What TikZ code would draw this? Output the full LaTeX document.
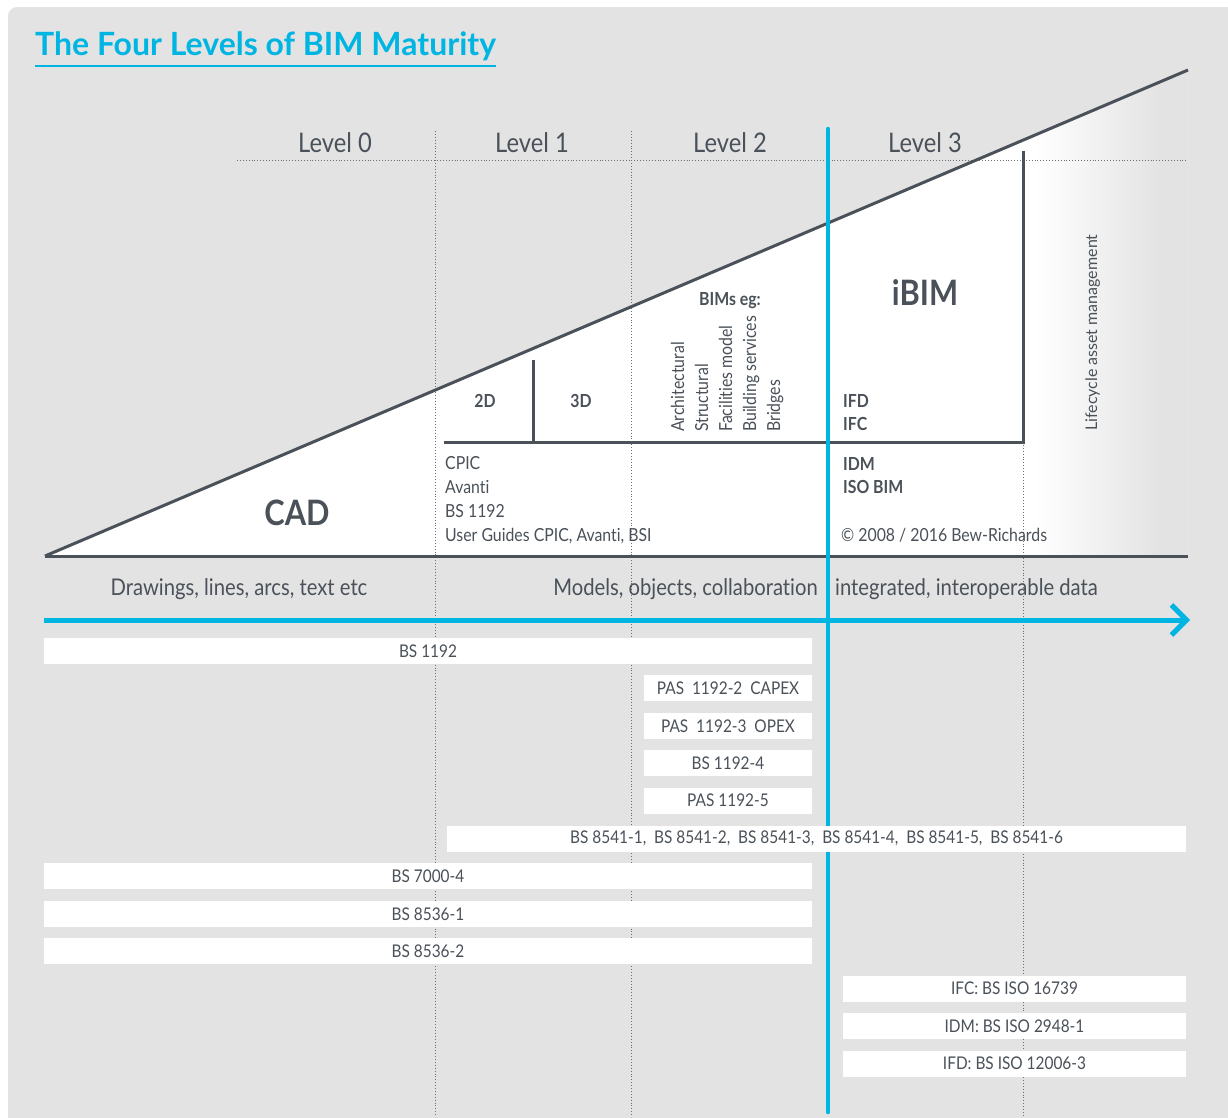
\documentclass[tikz,border=0pt]{standalone}
\usepackage{fontspec}
\setmainfont{Lato}[FakeStretch=0.88, Ligatures=NoCommon]
\newfontfamily\widefont{Lato}[Ligatures=NoCommon]
\usetikzlibrary{arrows.meta}

\definecolor{bimblue}{HTML}{00B5E2}
\definecolor{bimgrey}{HTML}{E3E3E3}
\definecolor{bimdark}{HTML}{4A5159}
\definecolor{bimdot}{HTML}{6A7077}

\tikzset{
  darkline/.style={draw=bimdark, line width=3pt},
  dotline/.style={draw=bimdot, line width=0.9pt, dotted},
  titletext/.style={text=bimblue, inner sep=0pt, anchor=base west, font=\widefont\bfseries\fontsize{32}{32}\selectfont},
  lvltext/.style={text=bimdark, inner sep=0pt, anchor=base, font=\fontsize{27}{27}\selectfont},
  bigtext/.style={text=bimdark, inner sep=0pt, anchor=base, font=\bfseries\fontsize{35}{35}\selectfont},
  boldtext/.style={text=bimdark, inner sep=0pt, anchor=base west, font=\bfseries\fontsize{18}{18}\selectfont},
  smalltext/.style={text=bimdark, inner sep=0pt, anchor=base west, font=\fontsize{18}{18}\selectfont},
  sidetext/.style={text=bimdark, inner sep=0pt, anchor=base west, rotate=90, font=\fontsize{18}{18}\selectfont},
  midtext/.style={text=bimdark, inner sep=0pt, anchor=base, font=\fontsize{23}{23}\selectfont},
  bar/.style={fill=white, text=bimdark, inner sep=0pt, minimum height=26pt, font=\fontsize{17.5}{17.5}\selectfont},
}

\begin{document}
\begin{tikzpicture}[x=1pt, y=-1pt]
  % BACKGROUND
  \useasboundingbox (0,0) rectangle (1228,1117);
  \fill[white] (0,0) rectangle (1228,1117);
  \fill[bimgrey, rounded corners=9pt] (8,7) rectangle (1240,1130);

  % TITLE
  \node[titletext] (title) at (35,55) {The Four Levels of BIM Maturity};
  \draw[bimblue, line width=2pt] ([yshift=-11pt]title.base west) -- ([yshift=-11pt]title.base east);

  % TRIANGLE
  \coordinate (t0) at (45,556); % left tip
  \coordinate (t1) at (1188,70); % top right
  \coordinate (t2) at (1188,556); % bottom right
  \fill[white] (t0) -- (t1) -- (t2) -- cycle;
  \begin{scope}
    \clip (t0) -- (t1) -- (t2) -- cycle;
    \shade[left color=white, right color=bimgrey] (1035,60) rectangle (1160,560);
    \fill[bimgrey] (1160,60) rectangle (1190,560);
  \end{scope}

  % DOTTED GRID
  \coordinate (h0) at (237,160);
  \coordinate (h1) at (1188,160);
  \coordinate (v1a) at (435,131);
  \coordinate (v1b) at (435,1117);
  \coordinate (v2a) at (631,131);
  \coordinate (v2b) at (631,1117);
  \coordinate (v3a) at (1023,442);
  \coordinate (v3b) at (1023,1117);
  \draw[dotline] (h0) -- (h1);
  \draw[dotline] (v1a) -- (v1b);
  \draw[dotline] (v2a) -- (v2b);
  \draw[dotline] (v3a) -- (v3b);

  % INNER FRAME
  \coordinate (f0) at (444,442);
  \coordinate (f1) at (1023,442);
  \coordinate (f2) at (1023,151);
  \coordinate (d0) at (533,360);
  \coordinate (d1) at (533,442);
  \draw[darkline] (f0) -- (f1) -- (f2);
  \draw[darkline] (d0) -- (d1);
  \draw[darkline] (t0) -- (t1);
  \draw[darkline] (t0) -- (t2);

  % BLUE AXES
  \coordinate (b0) at (828,129);
  \coordinate (b1) at (828,1112);
  \coordinate (a0) at (44,620);
  \coordinate (a1) at (1190,620);
  \draw[bimblue, line width=4.5pt, line cap=round] (b0) -- (b1);
  \draw[bimblue, line width=5pt, -{Straight Barb[length=15pt, width=30pt]}] (a0) -- (a1);

  % LEVELS
  \node[lvltext] (lv0) at (335,152) {Level 0};
  \node[lvltext] (lv1) at (532,152) {Level 1};
  \node[lvltext] (lv2) at (730,152) {Level 2};
  \node[lvltext] (lv3) at (925,152) {Level 3};

  % TRIANGLE TEXT
  \node[bigtext] (cad) at (297,525) {CAD};
  \node[bigtext] (ibim) at (925,305) {iBIM};
  \node[boldtext, anchor=base] (bims) at (730,305) {BIMs eg:};
  \node[boldtext, anchor=base] (twod) at (485,407) {2D};
  \node[boldtext, anchor=base] (threed) at (581,407) {3D};
  \node[sidetext] (arch) at (684,432) {Architectural};
  \node[sidetext] (struct) at (708,432) {Structural};
  \node[sidetext] (facil) at (732,432) {Facilities model};
  \node[sidetext] (bserv) at (756,432) {Building services};
  \node[sidetext] (bridge) at (780,432) {Bridges};
  \node[boldtext] (ifd) at (843,407) {IFD};
  \node[boldtext] (ifc) at (843,430) {IFC};
  \node[boldtext] (idm) at (843,470) {IDM};
  \node[boldtext] (isobim) at (843,493) {ISO BIM};
  \node[smalltext] (cpic) at (445,469) {CPIC};
  \node[smalltext] (avanti) at (445,493) {Avanti};
  \node[smalltext] (bs) at (445,517) {BS 1192};
  \node[smalltext] (guides) at (445,541) {User Guides CPIC, Avanti, BSI};
  \node[smalltext] (copy) at (841,541) {© 2008 / 2016 Bew-Richards};
  \node[sidetext, font=\widefont\fontsize{16}{16}\selectfont] (life) at (1097,431) {Lifecycle asset management};

  % AXIS TEXT
  \node[midtext] (draw) at (239,595) {Drawings, lines, arcs, text etc};
  \node[midtext, anchor=base east] (models) at (818,595) {Models, objects, collaboration};
  \node[midtext, anchor=base west] (data) at (835,595) {integrated, interoperable data};

  % STANDARDS
  \node[bar, minimum width=768pt] (s1) at (428,651) {BS 1192};
  \node[bar, minimum width=168pt] (s2) at (728,688) {PAS~ 1192-2~ CAPEX};
  \node[bar, minimum width=168pt] (s3) at (728,726) {PAS~ 1192-3~ OPEX};
  \node[bar, minimum width=168pt] (s4) at (728,763) {BS 1192-4};
  \node[bar, minimum width=168pt] (s5) at (728,800.5) {PAS 1192-5};
  \node[bar, minimum width=739pt] (s6) at (816.5,838.5) {BS 8541-1,~ BS 8541-2,~ BS 8541-3,~ BS 8541-4,~ BS 8541-5,~ BS 8541-6};
  \node[bar, minimum width=768pt] (s7) at (428,876) {BS 7000-4};
  \node[bar, minimum width=768pt] (s8) at (428,914) {BS 8536-1};
  \node[bar, minimum width=768pt] (s9) at (428,951) {BS 8536-2};
  \node[bar, minimum width=343pt] (s10) at (1014.5,988.5) {IFC: BS ISO 16739};
  \node[bar, minimum width=343pt] (s11) at (1014.5,1026) {IDM: BS ISO 2948-1};
  \node[bar, minimum width=343pt] (s12) at (1014.5,1063.5) {IFD: BS ISO 12006-3};
\end{tikzpicture}
\end{document}
